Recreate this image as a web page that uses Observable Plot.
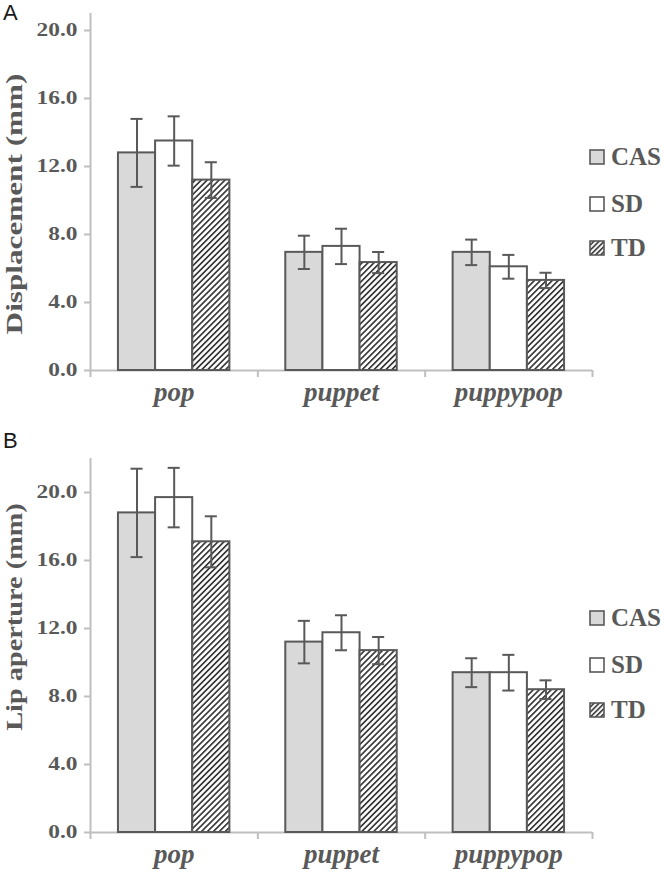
<!DOCTYPE html>
<html><head><meta charset="utf-8">
<script src="https://cdn.jsdelivr.net/npm/d3@7"></script>
<script src="https://cdn.jsdelivr.net/npm/@observablehq/plot@0.6"></script>
<style>
body{margin:0;background:#fff;}
#wrap{position:relative;width:664px;height:875px;overflow:hidden;background:#fff;}
.panel{position:absolute;left:0;}
.plabel{position:absolute;left:3px;font-family:"Liberation Sans",Arial,sans-serif;font-size:22px;line-height:22px;color:#1a1a1a;}
.ytitle{position:absolute;font-family:"Liberation Serif","Times New Roman",serif;font-weight:bold;font-size:24px;line-height:1;color:#595959;white-space:nowrap;}
.legend{position:absolute;left:589px;font-family:"Liberation Serif","Times New Roman",serif;font-weight:bold;font-size:25px;color:#595959;}
.legend .item{position:absolute;left:0;display:flex;align-items:center;white-space:nowrap;height:30px;}
.legend svg{margin-right:6px;}
</style></head><body><div id="wrap"></div>
<script>
// ---- data ----
const categories = ["pop", "puppet", "puppypop"];
const groups = ["CAS", "SD", "TD"];
const yTicks = [0, 4, 8, 12, 16, 20];

// Panel A: Displacement (mm)
const dispCAS = [12.8, 6.95, 6.95];
const dispSD = [13.5, 7.3, 6.1];
const dispTD = [11.2, 6.35, 5.3];
const dispCASErr = [2.0, 0.98, 0.75];
const dispSDErr = [1.45, 1.04, 0.7];
const dispTDErr = [1.05, 0.62, 0.45];

// Panel B: Lip aperture (mm)
const lipCAS = [18.8, 11.2, 9.4];
const lipSD = [19.7, 11.75, 9.4];
const lipTD = [17.1, 10.7, 8.4];
const lipCASErr = [2.6, 1.25, 0.85];
const lipSDErr = [1.75, 1.03, 1.05];
const lipTDErr = [1.5, 0.8, 0.55];

const TEXT = "#595959";
const AXIS = "#bfbfbf";
const BW = 0.222;      // bar width in category units
const CAP = 0.036;     // half error-bar cap width

function rowsFor(vals, errs) {
  const out = [];
  categories.forEach((c, ci) => groups.forEach((g, gi) => {
    out.push({cat: c, ci, group: g, gi, value: vals[gi][ci], err: errs[gi][ci]});
  }));
  return out;
}

function appendTransform(sel, extra) {
  sel.attr("transform", function() { return (this.getAttribute("transform") || "") + " " + extra; });
}

function panel(opts) {
  const {rows, yMax, top, height, marginTop, marginBottom, pid} = opts;
  const fills = {CAS: "#d9d9d9", SD: "#ffffff", TD: `url(#hatch${pid})`};
  const x1 = d => d.ci + 0.5 + (d.gi - 1.5) * BW;
  const cx = d => x1(d) + BW / 2;
  const marks = [
    Plot.ruleY([0], {stroke: AXIS, strokeWidth: 2}),
    Plot.ruleX([0], {stroke: AXIS, strokeWidth: 2}),
    ...groups.map(g => Plot.rectY(rows.filter(d => d.group === g), {
      x1: x1, x2: d => x1(d) + BW, y: "value",
      fill: fills[g], stroke: "#595959", strokeWidth: 2
    })),
    Plot.ruleX(rows, {x: cx, y1: d => d.value - d.err, y2: d => d.value + d.err, stroke: "#595959", strokeWidth: 2}),
    Plot.ruleY(rows, {y: d => d.value + d.err, x1: d => cx(d) - CAP, x2: d => cx(d) + CAP, stroke: "#595959", strokeWidth: 2}),
    Plot.ruleY(rows, {y: d => d.value - d.err, x1: d => cx(d) - CAP, x2: d => cx(d) + CAP, stroke: "#595959", strokeWidth: 2}),
    Plot.axisY({ticks: yTicks, tickFormat: d => d.toFixed(1), tickSize: 6, tickPadding: 7, label: null}),
    Plot.axisX({ticks: [0, 1, 2, 3], tickSize: 7, tickFormat: () => "", label: null}),
    Plot.axisX({ticks: [0.5, 1.5, 2.5], tickSize: 0, tickPadding: 11, tickFormat: d => categories[Math.floor(d)], label: null})
  ];
  const svg = Plot.plot({
    width: 664, height, marginLeft: 90, marginRight: 72, marginTop, marginBottom,
    x: {type: "linear", domain: [0, 3], axis: null},
    y: {domain: [0, yMax], axis: null},
    style: {fontFamily: "Liberation Serif", background: "transparent", overflow: "visible"},
    marks
  });
  const s = d3.select(svg);
  const defs = s.insert("defs", ":first-child");
  const pat = defs.append("pattern").attr("id", `hatch${pid}`).attr("patternUnits", "userSpaceOnUse")
    .attr("width", 4.2).attr("height", 4.2).attr("patternTransform", "rotate(45)");
  pat.append("rect").attr("width", 4.2).attr("height", 4.2).attr("fill", "#ffffff");
  pat.append("rect").attr("width", 1.7).attr("height", 4.2).attr("fill", "#3a3a3a");
  s.selectAll('g[aria-label="y-axis tick"], g[aria-label="x-axis tick"]').attr("stroke", AXIS).attr("stroke-width", 2);
  const texts = s.selectAll("text");
  const yLabels = texts.filter(function() { return /^\d+\.\d$/.test(this.textContent); });
  yLabels.attr("fill", TEXT).attr("font-size", 18).attr("font-weight", "bold").attr("font-family", "Liberation Serif");
  appendTransform(yLabels, "scale(1.3,1)");
  const cats = texts.filter(function() { return categories.includes(this.textContent); });
  cats.attr("fill", TEXT).attr("font-size", 27).attr("font-weight", "bold").attr("font-style", "italic").attr("font-family", "Liberation Serif");
  const div = document.createElement("div");
  div.className = "panel";
  div.style.top = top + "px";
  div.appendChild(svg);
  return div;
}

function yTitle(text, cxp, cyp, sc) {
  const d = document.createElement("div");
  d.className = "ytitle";
  d.textContent = text;
  d.style.left = cxp + "px";
  d.style.top = cyp + "px";
  d.style.transform = `translate(-50%,-50%) rotate(-90deg) scale(${sc},1)`;
  return d;
}

function legend(centers, pid) {
  const L = document.createElement("div");
  L.className = "legend";
  L.style.top = "0px";
  const fills = {CAS: "#d9d9d9", SD: "#ffffff"};
  groups.forEach((g, i) => {
    const it = document.createElement("div");
    it.className = "item";
    it.style.top = (centers[i] - 15) + "px";
    it.innerHTML = `<svg width="16" height="16"><defs><pattern id="lh${pid}${i}" patternUnits="userSpaceOnUse" width="3.6" height="3.6" patternTransform="rotate(45)"><rect width="3.6" height="3.6" fill="#fff"/><rect width="1.6" height="3.6" fill="#3a3a3a"/></pattern></defs><rect x="1" y="1" width="14" height="14" fill="${g === "TD" ? `url(#lh${pid}${i})` : fills[g]}" stroke="#595959" stroke-width="1.6"/></svg><span>${g}</span>`;
    L.appendChild(it);
  });
  return L;
}

const wrap = document.getElementById("wrap");
const rowsA = rowsFor([dispCAS, dispSD, dispTD], [dispCASErr, dispSDErr, dispTDErr]);
const rowsB = rowsFor([lipCAS, lipSD, lipTD], [lipCASErr, lipSDErr, lipTDErr]);
wrap.appendChild(panel({rows: rowsA, yMax: 21, top: 0, height: 420, marginTop: 13, marginBottom: 50, pid: "A"}));
wrap.appendChild(panel({rows: rowsB, yMax: 22, top: 420, height: 455, marginTop: 38, marginBottom: 43, pid: "B"}));
wrap.appendChild(yTitle("Displacement (mm)", 14, 204, 1.3));
wrap.appendChild(yTitle("Lip aperture (mm)", 14, 617, 1.18));
wrap.appendChild(legend([157, 204, 248], "A"));
wrap.appendChild(legend([618, 665, 710], "B"));
const la = document.createElement("div"); la.className = "plabel"; la.style.top = "2px"; la.textContent = "A"; wrap.appendChild(la);
const lb = document.createElement("div"); lb.className = "plabel"; lb.style.top = "430px"; lb.textContent = "B"; wrap.appendChild(lb);
</script></body></html>
